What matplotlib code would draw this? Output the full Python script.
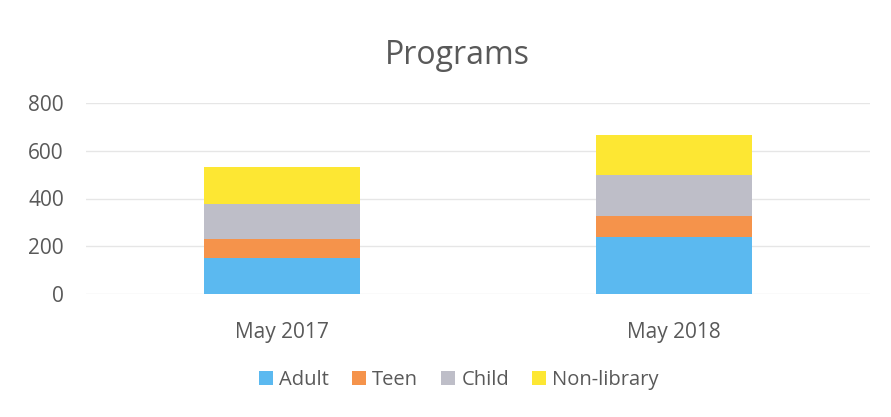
import numpy as np
import matplotlib.pyplot as plt

plt.rcParams['font.family'] = ['Open Sans', 'DejaVu Sans']

months = ['May 2017', 'May 2018']
adult = [150, 238]
teen = [80, 87]
child = [146, 174]
nonlib = [158, 165]

series = [('Adult', adult, '#5bb9f0'),
          ('Teen', teen, '#f5934b'),
          ('Child', child, '#bebec8'),
          ('Non-library', nonlib, '#fde733')]

fig = plt.figure(figsize=(8.91, 4.17), dpi=100)
ax = fig.add_axes([86/891, 1 - 294/417, 784/891, 191/417])

x = np.arange(len(months))
bottom = np.zeros(len(months))
for name, vals, col in series:
    ax.bar(x, vals, 0.4, bottom=bottom, color=col, label=name, zorder=2)
    bottom += np.array(vals)

ax.set_xlim(-0.5, 1.5)
ax.set_ylim(0, 800)
ax.set_yticks(range(0, 801, 200))
ax.set_xticks(x)
ax.set_xticklabels(months)
ax.yaxis.grid(True, color='#e6e6e6', linewidth=1, zorder=0)
for s in ax.spines.values():
    s.set_visible(False)
ax.tick_params(length=0, labelsize=15, colors='#595959')
ax.tick_params(axis='y', pad=16)
ax.tick_params(axis='x', pad=20)

fig.text(0.513, 1 - 55/417, 'Programs', ha='center', va='center',
         fontsize=23, color='#595959')

fig.legend(loc='center', bbox_to_anchor=(0.515, 1 - 380/417), ncol=4,
           frameon=False, fontsize=14.5, labelcolor='#595959',
           handlelength=0.7, handleheight=0.7, handletextpad=0.3,
           columnspacing=1.15)

plt.savefig('out.png')
